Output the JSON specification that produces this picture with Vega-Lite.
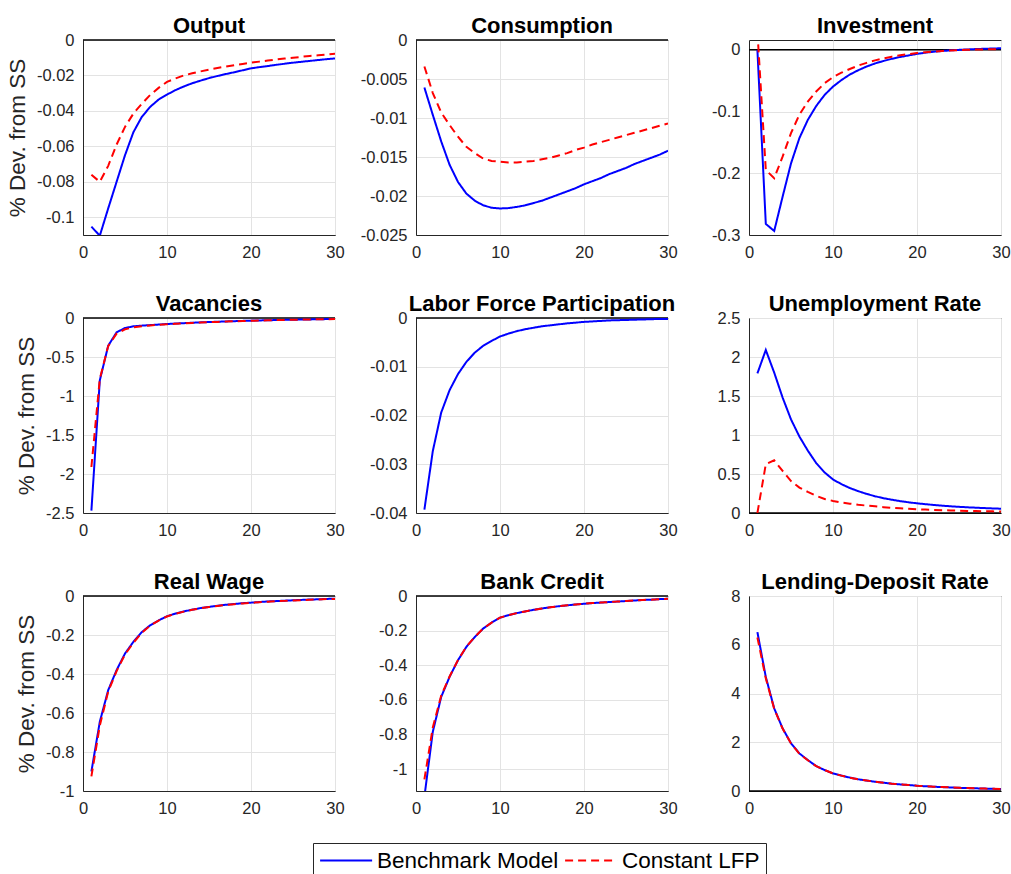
{
  "$schema": "https://vega.github.io/schema/vega-lite/v6.json",
  "padding": {"left": 5, "top": 14, "right": 5, "bottom": 5},
  "config": {
    "font": "Liberation Sans",
    "locale": {"number": {"decimal": ".", "thousands": ",", "grouping": [3], "currency": ["$", ""], "minus": "-"}},
    "view": {"stroke": "#262626", "strokeWidth": 1},
    "axis": {"grid": true, "gridColor": "#e3e3e3", "domainColor": "#262626", "ticks": false, "labelColor": "#262626", "labelFontSize": 16.5, "titleFontSize": 22.5, "titleFontWeight": "normal", "titleColor": "#262626", "labelPadding": 9, "titlePadding": 7, "labelFlush": false, "labelOverlap": false, "tickCount": 12},
    "title": {"fontSize": 22, "fontWeight": "bold", "color": "black", "offset": -6},
    "legend": {"orient": "none", "legendX": 230, "legendY": 803, "direction": "horizontal", "strokeColor": "#262626", "fillColor": "white", "padding": 6, "labelFontSize": 22.5, "labelColor": "black", "labelLimit": 400, "symbolSize": 433, "symbolStrokeWidth": 2, "columnPadding": 2, "labelOffset": 35, "cornerRadius": 0}
  },
  "datasets": {
    "irf": [
      {"p":"O","t":1,"B":-0.1053,"C":-0.076},{"p":"O","t":2,"B":-0.1104,"C":-0.080},{"p":"O","t":3,"B":-0.095,"C":-0.071},{"p":"O","t":4,"B":-0.080,"C":-0.059},{"p":"O","t":5,"B":-0.065,"C":-0.049},{"p":"O","t":6,"B":-0.052,"C":-0.0415},{"p":"O","t":7,"B":-0.0434,"C":-0.036},{"p":"O","t":8,"B":-0.0377,"C":-0.031},{"p":"O","t":9,"B":-0.0336,"C":-0.027},{"p":"O","t":10,"B":-0.0308,"C":-0.0236},
      {"p":"O","t":11,"B":-0.0283,"C":-0.0217},{"p":"O","t":12,"B":-0.0262,"C":-0.0200},{"p":"O","t":13,"B":-0.0244,"C":-0.0188},{"p":"O","t":14,"B":-0.0229,"C":-0.0177},{"p":"O","t":15,"B":-0.0215,"C":-0.0167},{"p":"O","t":16,"B":-0.0203,"C":-0.0158},{"p":"O","t":17,"B":-0.0192,"C":-0.0150},{"p":"O","t":18,"B":-0.0182,"C":-0.0142},{"p":"O","t":19,"B":-0.0171,"C":-0.0135},{"p":"O","t":20,"B":-0.0160,"C":-0.0128},
      {"p":"O","t":21,"B":-0.0153,"C":-0.0122},{"p":"O","t":22,"B":-0.0147,"C":-0.0116},{"p":"O","t":23,"B":-0.0140,"C":-0.0110},{"p":"O","t":24,"B":-0.0134,"C":-0.0105},{"p":"O","t":25,"B":-0.0128,"C":-0.0100},{"p":"O","t":26,"B":-0.0123,"C":-0.0095},{"p":"O","t":27,"B":-0.0118,"C":-0.0090},{"p":"O","t":28,"B":-0.0113,"C":-0.0086},{"p":"O","t":29,"B":-0.0108,"C":-0.0082},{"p":"O","t":30,"B":-0.0104,"C":-0.0078},

      {"p":"N","t":1,"B":-0.0061,"C":-0.0034},{"p":"N","t":2,"B":-0.0096,"C":-0.0068},{"p":"N","t":3,"B":-0.0130,"C":-0.0093},{"p":"N","t":4,"B":-0.0160,"C":-0.0109},{"p":"N","t":5,"B":-0.0182,"C":-0.0124},{"p":"N","t":6,"B":-0.0197,"C":-0.0137},{"p":"N","t":7,"B":-0.0206,"C":-0.0145},{"p":"N","t":8,"B":-0.0212,"C":-0.0152},{"p":"N","t":9,"B":-0.0215,"C":-0.0155},{"p":"N","t":10,"B":-0.0216,"C":-0.0156},
      {"p":"N","t":11,"B":-0.02155,"C":-0.0157},{"p":"N","t":12,"B":-0.0214,"C":-0.0157},{"p":"N","t":13,"B":-0.0212,"C":-0.0156},{"p":"N","t":14,"B":-0.0209,"C":-0.0155},{"p":"N","t":15,"B":-0.0206,"C":-0.0153},{"p":"N","t":16,"B":-0.0202,"C":-0.0151},{"p":"N","t":17,"B":-0.0198,"C":-0.0148},{"p":"N","t":18,"B":-0.0194,"C":-0.0145},{"p":"N","t":19,"B":-0.0190,"C":-0.0141},{"p":"N","t":20,"B":-0.0185,"C":-0.0138},
      {"p":"N","t":21,"B":-0.0181,"C":-0.0134},{"p":"N","t":22,"B":-0.0177,"C":-0.0131},{"p":"N","t":23,"B":-0.0172,"C":-0.0128},{"p":"N","t":24,"B":-0.0168,"C":-0.0125},{"p":"N","t":25,"B":-0.0164,"C":-0.0122},{"p":"N","t":26,"B":-0.0159,"C":-0.0119},{"p":"N","t":27,"B":-0.0155,"C":-0.0116},{"p":"N","t":28,"B":-0.0151,"C":-0.0113},{"p":"N","t":29,"B":-0.0147,"C":-0.0110},{"p":"N","t":30,"B":-0.0142,"C":-0.0107},

      {"p":"I","t":1,"B":0,"C":0.03},{"p":"I","t":2,"B":-0.282,"C":-0.1946},{"p":"I","t":3,"B":-0.2935,"C":-0.208},{"p":"I","t":4,"B":-0.238,"C":-0.173},{"p":"I","t":5,"B":-0.184,"C":-0.135},{"p":"I","t":6,"B":-0.143,"C":-0.105},{"p":"I","t":7,"B":-0.1135,"C":-0.084},{"p":"I","t":8,"B":-0.091,"C":-0.0675},{"p":"I","t":9,"B":-0.073,"C":-0.054},{"p":"I","t":10,"B":-0.0595,"C":-0.0443},
      {"p":"I","t":11,"B":-0.049,"C":-0.037},{"p":"I","t":12,"B":-0.040,"C":-0.031},{"p":"I","t":13,"B":-0.033,"C":-0.0255},{"p":"I","t":14,"B":-0.027,"C":-0.021},{"p":"I","t":15,"B":-0.022,"C":-0.017},{"p":"I","t":16,"B":-0.018,"C":-0.0138},{"p":"I","t":17,"B":-0.0145,"C":-0.011},{"p":"I","t":18,"B":-0.0115,"C":-0.0088},{"p":"I","t":19,"B":-0.009,"C":-0.0068},{"p":"I","t":20,"B":-0.0065,"C":-0.0052},
      {"p":"I","t":21,"B":-0.0045,"C":-0.0038},{"p":"I","t":22,"B":-0.003,"C":-0.0027},{"p":"I","t":23,"B":-0.0018,"C":-0.0018},{"p":"I","t":24,"B":-0.0008,"C":-0.001},{"p":"I","t":25,"B":0,"C":-0.0004},{"p":"I","t":26,"B":0.0007,"C":0.0001},{"p":"I","t":27,"B":0.0013,"C":0.0005},{"p":"I","t":28,"B":0.0018,"C":0.0008},{"p":"I","t":29,"B":0.0022,"C":0.0011},{"p":"I","t":30,"B":0.0026,"C":0.0013},

      {"p":"V","t":1,"B":-2.47,"C":-1.91},{"p":"V","t":2,"B":-0.80,"C":-0.78},{"p":"V","t":3,"B":-0.355,"C":-0.36},{"p":"V","t":4,"B":-0.184,"C":-0.20},{"p":"V","t":5,"B":-0.128,"C":-0.145},{"p":"V","t":6,"B":-0.107,"C":-0.12},{"p":"V","t":7,"B":-0.098,"C":-0.105},{"p":"V","t":8,"B":-0.091,"C":-0.095},{"p":"V","t":9,"B":-0.084,"C":-0.087},{"p":"V","t":10,"B":-0.077,"C":-0.080},
      {"p":"V","t":11,"B":-0.071,"C":-0.074},{"p":"V","t":12,"B":-0.066,"C":-0.068},{"p":"V","t":13,"B":-0.061,"C":-0.063},{"p":"V","t":14,"B":-0.056,"C":-0.058},{"p":"V","t":15,"B":-0.052,"C":-0.054},{"p":"V","t":16,"B":-0.048,"C":-0.050},{"p":"V","t":17,"B":-0.044,"C":-0.046},{"p":"V","t":18,"B":-0.041,"C":-0.042},{"p":"V","t":19,"B":-0.037,"C":-0.039},{"p":"V","t":20,"B":-0.034,"C":-0.036},
      {"p":"V","t":21,"B":-0.031,"C":-0.033},{"p":"V","t":22,"B":-0.029,"C":-0.030},{"p":"V","t":23,"B":-0.026,"C":-0.027},{"p":"V","t":24,"B":-0.024,"C":-0.025},{"p":"V","t":25,"B":-0.022,"C":-0.023},{"p":"V","t":26,"B":-0.020,"C":-0.021},{"p":"V","t":27,"B":-0.018,"C":-0.019},{"p":"V","t":28,"B":-0.016,"C":-0.017},{"p":"V","t":29,"B":-0.014,"C":-0.015},{"p":"V","t":30,"B":-0.013,"C":-0.014},

      {"p":"L","t":1,"B":-0.0393},{"p":"L","t":2,"B":-0.0273},{"p":"L","t":3,"B":-0.0194},{"p":"L","t":4,"B":-0.0148},{"p":"L","t":5,"B":-0.0115},{"p":"L","t":6,"B":-0.0090},{"p":"L","t":7,"B":-0.0071},{"p":"L","t":8,"B":-0.0057},{"p":"L","t":9,"B":-0.0047},{"p":"L","t":10,"B":-0.0038},
      {"p":"L","t":11,"B":-0.0032},{"p":"L","t":12,"B":-0.0027},{"p":"L","t":13,"B":-0.0023},{"p":"L","t":14,"B":-0.0020},{"p":"L","t":15,"B":-0.0017},{"p":"L","t":16,"B":-0.0015},{"p":"L","t":17,"B":-0.0013},{"p":"L","t":18,"B":-0.0011},{"p":"L","t":19,"B":-0.00095},{"p":"L","t":20,"B":-0.0008},
      {"p":"L","t":21,"B":-0.0007},{"p":"L","t":22,"B":-0.0006},{"p":"L","t":23,"B":-0.0005},{"p":"L","t":24,"B":-0.00045},{"p":"L","t":25,"B":-0.0004},{"p":"L","t":26,"B":-0.00035},{"p":"L","t":27,"B":-0.0003},{"p":"L","t":28,"B":-0.00025},{"p":"L","t":29,"B":-0.0002},{"p":"L","t":30,"B":-0.0002},

      {"p":"U","t":1,"B":1.79,"C":0},{"p":"U","t":2,"B":2.09,"C":0.625},{"p":"U","t":3,"B":1.80,"C":0.675},{"p":"U","t":4,"B":1.48,"C":0.54},{"p":"U","t":5,"B":1.20,"C":0.41},{"p":"U","t":6,"B":0.98,"C":0.325},{"p":"U","t":7,"B":0.80,"C":0.27},{"p":"U","t":8,"B":0.64,"C":0.22},{"p":"U","t":9,"B":0.52,"C":0.18},{"p":"U","t":10,"B":0.43,"C":0.155},
      {"p":"U","t":11,"B":0.37,"C":0.135},{"p":"U","t":12,"B":0.32,"C":0.12},{"p":"U","t":13,"B":0.28,"C":0.105},{"p":"U","t":14,"B":0.245,"C":0.095},{"p":"U","t":15,"B":0.215,"C":0.085},{"p":"U","t":16,"B":0.19,"C":0.075},{"p":"U","t":17,"B":0.17,"C":0.067},{"p":"U","t":18,"B":0.152,"C":0.06},{"p":"U","t":19,"B":0.137,"C":0.054},{"p":"U","t":20,"B":0.124,"C":0.048},
      {"p":"U","t":21,"B":0.113,"C":0.044},{"p":"U","t":22,"B":0.103,"C":0.04},{"p":"U","t":23,"B":0.094,"C":0.036},{"p":"U","t":24,"B":0.086,"C":0.033},{"p":"U","t":25,"B":0.079,"C":0.030},{"p":"U","t":26,"B":0.073,"C":0.027},{"p":"U","t":27,"B":0.068,"C":0.025},{"p":"U","t":28,"B":0.063,"C":0.023},{"p":"U","t":29,"B":0.059,"C":0.021},{"p":"U","t":30,"B":0.055,"C":0.019},

      {"p":"W","t":1,"B":-0.90,"C":-0.925},{"p":"W","t":2,"B":-0.645,"C":-0.665},{"p":"W","t":3,"B":-0.483,"C":-0.49},{"p":"W","t":4,"B":-0.38,"C":-0.385},{"p":"W","t":5,"B":-0.295,"C":-0.30},{"p":"W","t":6,"B":-0.235,"C":-0.24},{"p":"W","t":7,"B":-0.185,"C":-0.188},{"p":"W","t":8,"B":-0.150,"C":-0.152},{"p":"W","t":9,"B":-0.125,"C":-0.126},{"p":"W","t":10,"B":-0.104,"C":-0.105},
      {"p":"W","t":11,"B":-0.090,"C":-0.091},{"p":"W","t":12,"B":-0.079,"C":-0.080},{"p":"W","t":13,"B":-0.070,"C":-0.071},{"p":"W","t":14,"B":-0.062,"C":-0.063},{"p":"W","t":15,"B":-0.056,"C":-0.057},{"p":"W","t":16,"B":-0.050,"C":-0.051},{"p":"W","t":17,"B":-0.045,"C":-0.046},{"p":"W","t":18,"B":-0.041,"C":-0.042},{"p":"W","t":19,"B":-0.037,"C":-0.038},{"p":"W","t":20,"B":-0.034,"C":-0.035},
      {"p":"W","t":21,"B":-0.031,"C":-0.032},{"p":"W","t":22,"B":-0.028,"C":-0.029},{"p":"W","t":23,"B":-0.026,"C":-0.027},{"p":"W","t":24,"B":-0.024,"C":-0.025},{"p":"W","t":25,"B":-0.022,"C":-0.023},{"p":"W","t":26,"B":-0.020,"C":-0.021},{"p":"W","t":27,"B":-0.018,"C":-0.019},{"p":"W","t":28,"B":-0.017,"C":-0.018},{"p":"W","t":29,"B":-0.015,"C":-0.016},{"p":"W","t":30,"B":-0.014,"C":-0.015},

      {"p":"K","t":1,"B":-1.16,"C":-1.06},{"p":"K","t":2,"B":-0.785,"C":-0.76},{"p":"K","t":3,"B":-0.583,"C":-0.575},{"p":"K","t":4,"B":-0.467,"C":-0.465},{"p":"K","t":5,"B":-0.371,"C":-0.37},{"p":"K","t":6,"B":-0.294,"C":-0.293},{"p":"K","t":7,"B":-0.237,"C":-0.236},{"p":"K","t":8,"B":-0.188,"C":-0.188},{"p":"K","t":9,"B":-0.154,"C":-0.154},{"p":"K","t":10,"B":-0.125,"C":-0.125},
      {"p":"K","t":11,"B":-0.111,"C":-0.111},{"p":"K","t":12,"B":-0.099,"C":-0.099},{"p":"K","t":13,"B":-0.089,"C":-0.089},{"p":"K","t":14,"B":-0.080,"C":-0.080},{"p":"K","t":15,"B":-0.072,"C":-0.072},{"p":"K","t":16,"B":-0.065,"C":-0.065},{"p":"K","t":17,"B":-0.059,"C":-0.059},{"p":"K","t":18,"B":-0.054,"C":-0.054},{"p":"K","t":19,"B":-0.049,"C":-0.049},{"p":"K","t":20,"B":-0.045,"C":-0.045},
      {"p":"K","t":21,"B":-0.041,"C":-0.041},{"p":"K","t":22,"B":-0.038,"C":-0.038},{"p":"K","t":23,"B":-0.035,"C":-0.035},{"p":"K","t":24,"B":-0.032,"C":-0.032},{"p":"K","t":25,"B":-0.029,"C":-0.029},{"p":"K","t":26,"B":-0.026,"C":-0.026},{"p":"K","t":27,"B":-0.023,"C":-0.023},{"p":"K","t":28,"B":-0.021,"C":-0.021},{"p":"K","t":29,"B":-0.018,"C":-0.018},{"p":"K","t":30,"B":-0.016,"C":-0.016},

      {"p":"R","t":1,"B":6.52,"C":6.30},{"p":"R","t":2,"B":4.68,"C":4.62},{"p":"R","t":3,"B":3.39,"C":3.37},{"p":"R","t":4,"B":2.57,"C":2.56},{"p":"R","t":5,"B":1.96,"C":1.95},{"p":"R","t":6,"B":1.54,"C":1.53},{"p":"R","t":7,"B":1.27,"C":1.26},{"p":"R","t":8,"B":1.02,"C":1.02},{"p":"R","t":9,"B":0.86,"C":0.86},{"p":"R","t":10,"B":0.72,"C":0.72},
      {"p":"R","t":11,"B":0.63,"C":0.63},{"p":"R","t":12,"B":0.55,"C":0.55},{"p":"R","t":13,"B":0.48,"C":0.48},{"p":"R","t":14,"B":0.43,"C":0.43},{"p":"R","t":15,"B":0.38,"C":0.38},{"p":"R","t":16,"B":0.34,"C":0.34},{"p":"R","t":17,"B":0.30,"C":0.30},{"p":"R","t":18,"B":0.27,"C":0.27},{"p":"R","t":19,"B":0.245,"C":0.245},{"p":"R","t":20,"B":0.215,"C":0.215},
      {"p":"R","t":21,"B":0.195,"C":0.195},{"p":"R","t":22,"B":0.175,"C":0.175},{"p":"R","t":23,"B":0.16,"C":0.16},{"p":"R","t":24,"B":0.145,"C":0.145},{"p":"R","t":25,"B":0.13,"C":0.13},{"p":"R","t":26,"B":0.12,"C":0.12},{"p":"R","t":27,"B":0.11,"C":0.11},{"p":"R","t":28,"B":0.10,"C":0.10},{"p":"R","t":29,"B":0.09,"C":0.09},{"p":"R","t":30,"B":0.08,"C":0.08}
    ]
  },
  "columns": 3,
  "bounds": "flush",
  "spacing": {"row": 83, "column": 81},
  "resolve": {"scale": {"color": "shared", "strokeDash": "shared"}},
  "concat": [
    {
      "title": "Output", "width": 252, "height": 195,
      "layer": [
        {"data": {"values": [{}]}, "mark": {"type": "rule", "color": "black", "strokeWidth": 1.5}, "encoding": {"y": {"datum": 0, "type": "quantitative", "title": "% Dev. from SS"}}},
        {"data": {"name": "irf"}, "transform": [{"filter": "datum.p === 'O'"}, {"fold": ["B", "C"], "as": ["s", "v"]}, {"filter": "isValid(datum.v)"}],
         "mark": {"type": "line", "clip": true, "strokeWidth": 2},
         "encoding": {
           "x": {"field": "t", "type": "quantitative", "scale": {"domain": [0, 30], "nice": false}, "axis": {"values": [0, 10, 20, 30], "title": null}},
           "y": {"field": "v", "type": "quantitative", "scale": {"domain": [-0.11, 0], "nice": false, "zero": false}, "axis": {"values": [0, -0.02, -0.04, -0.06, -0.08, -0.1], "format": "~g", "labelOverlap": false, "tickCount": 12}, "title": "% Dev. from SS"},
           "color": {"field": "s", "type": "nominal", "title": null, "scale": {"domain": ["B", "C"], "range": ["#0000ff", "#ff0000"]}, "legend": {"symbolType": "M-1,0H4", "labelExpr": "datum.label == 'B' ? 'Benchmark Model' : 'Constant LFP'"}},
           "strokeDash": {"field": "s", "type": "nominal", "title": null, "scale": {"domain": ["B", "C"], "range": [[1, 0], [8, 5]]}, "legend": {"symbolType": "M-1,0H4", "labelExpr": "datum.label == 'B' ? 'Benchmark Model' : 'Constant LFP'"}}
         }}
      ]
    },
    {
      "title": "Consumption", "width": 252, "height": 195,
      "layer": [
        {"data": {"values": [{}]}, "mark": {"type": "rule", "color": "black", "strokeWidth": 1.5}, "encoding": {"y": {"datum": 0, "type": "quantitative", "title": null}}},
        {"data": {"name": "irf"}, "transform": [{"filter": "datum.p === 'N'"}, {"fold": ["B", "C"], "as": ["s", "v"]}, {"filter": "isValid(datum.v)"}],
         "mark": {"type": "line", "clip": true, "strokeWidth": 2},
         "encoding": {
           "x": {"field": "t", "type": "quantitative", "scale": {"domain": [0, 30], "nice": false}, "axis": {"values": [0, 10, 20, 30], "title": null}},
           "y": {"field": "v", "type": "quantitative", "scale": {"domain": [-0.025, 0], "nice": false, "zero": false}, "axis": {"values": [0, -0.005, -0.01, -0.015, -0.02, -0.025], "format": "~g", "labelOverlap": false, "tickCount": 12}, "title": null},
           "color": {"field": "s", "type": "nominal", "title": null, "scale": {"domain": ["B", "C"], "range": ["#0000ff", "#ff0000"]}, "legend": {"symbolType": "M-1,0H4", "labelExpr": "datum.label == 'B' ? 'Benchmark Model' : 'Constant LFP'"}},
           "strokeDash": {"field": "s", "type": "nominal", "title": null, "scale": {"domain": ["B", "C"], "range": [[1, 0], [8, 5]]}, "legend": {"symbolType": "M-1,0H4", "labelExpr": "datum.label == 'B' ? 'Benchmark Model' : 'Constant LFP'"}}
         }}
      ]
    },
    {
      "title": {"text": "Investment", "offset": 2}, "width": 252, "height": 195,
      "layer": [
        {"data": {"values": [{}]}, "mark": {"type": "rule", "color": "black", "strokeWidth": 1.5}, "encoding": {"y": {"datum": 0, "type": "quantitative", "title": null}}},
        {"data": {"name": "irf"}, "transform": [{"filter": "datum.p === 'I'"}, {"fold": ["B", "C"], "as": ["s", "v"]}, {"filter": "isValid(datum.v)"}],
         "mark": {"type": "line", "clip": true, "strokeWidth": 2},
         "encoding": {
           "x": {"field": "t", "type": "quantitative", "scale": {"domain": [0, 30], "nice": false}, "axis": {"values": [0, 10, 20, 30], "title": null}},
           "y": {"field": "v", "type": "quantitative", "scale": {"domain": [-0.3, 0.016], "nice": false, "zero": false}, "axis": {"values": [0, -0.1, -0.2, -0.3], "format": "~g", "labelOverlap": false, "tickCount": 12}, "title": null},
           "color": {"field": "s", "type": "nominal", "title": null, "scale": {"domain": ["B", "C"], "range": ["#0000ff", "#ff0000"]}, "legend": {"symbolType": "M-1,0H4", "labelExpr": "datum.label == 'B' ? 'Benchmark Model' : 'Constant LFP'"}},
           "strokeDash": {"field": "s", "type": "nominal", "title": null, "scale": {"domain": ["B", "C"], "range": [[1, 0], [8, 5]]}, "legend": {"symbolType": "M-1,0H4", "labelExpr": "datum.label == 'B' ? 'Benchmark Model' : 'Constant LFP'"}}
         }}
      ]
    },
    {
      "title": "Vacancies", "width": 252, "height": 195,
      "layer": [
        {"data": {"values": [{}]}, "mark": {"type": "rule", "color": "black", "strokeWidth": 1.5}, "encoding": {"y": {"datum": 0, "type": "quantitative", "title": "% Dev. from SS"}}},
        {"data": {"name": "irf"}, "transform": [{"filter": "datum.p === 'V'"}, {"fold": ["B", "C"], "as": ["s", "v"]}, {"filter": "isValid(datum.v)"}],
         "mark": {"type": "line", "clip": true, "strokeWidth": 2},
         "encoding": {
           "x": {"field": "t", "type": "quantitative", "scale": {"domain": [0, 30], "nice": false}, "axis": {"values": [0, 10, 20, 30], "title": null}},
           "y": {"field": "v", "type": "quantitative", "scale": {"domain": [-2.5, 0], "nice": false, "zero": false}, "axis": {"values": [0, -0.5, -1, -1.5, -2, -2.5], "format": "~g", "labelOverlap": false, "tickCount": 12}, "title": "% Dev. from SS"},
           "color": {"field": "s", "type": "nominal", "title": null, "scale": {"domain": ["B", "C"], "range": ["#0000ff", "#ff0000"]}, "legend": {"symbolType": "M-1,0H4", "labelExpr": "datum.label == 'B' ? 'Benchmark Model' : 'Constant LFP'"}},
           "strokeDash": {"field": "s", "type": "nominal", "title": null, "scale": {"domain": ["B", "C"], "range": [[1, 0], [8, 5]]}, "legend": {"symbolType": "M-1,0H4", "labelExpr": "datum.label == 'B' ? 'Benchmark Model' : 'Constant LFP'"}}
         }}
      ]
    },
    {
      "title": "Labor Force Participation", "width": 252, "height": 195,
      "layer": [
        {"data": {"values": [{}]}, "mark": {"type": "rule", "color": "black", "strokeWidth": 1.5}, "encoding": {"y": {"datum": 0, "type": "quantitative", "title": null}}},
        {"data": {"name": "irf"}, "transform": [{"filter": "datum.p === 'L'"}, {"fold": ["B", "C"], "as": ["s", "v"]}, {"filter": "isValid(datum.v)"}],
         "mark": {"type": "line", "clip": true, "strokeWidth": 2},
         "encoding": {
           "x": {"field": "t", "type": "quantitative", "scale": {"domain": [0, 30], "nice": false}, "axis": {"values": [0, 10, 20, 30], "title": null}},
           "y": {"field": "v", "type": "quantitative", "scale": {"domain": [-0.04, 0], "nice": false, "zero": false}, "axis": {"values": [0, -0.01, -0.02, -0.03, -0.04], "format": "~g", "labelOverlap": false, "tickCount": 12}, "title": null},
           "color": {"field": "s", "type": "nominal", "title": null, "scale": {"domain": ["B", "C"], "range": ["#0000ff", "#ff0000"]}, "legend": {"symbolType": "M-1,0H4", "labelExpr": "datum.label == 'B' ? 'Benchmark Model' : 'Constant LFP'"}},
           "strokeDash": {"field": "s", "type": "nominal", "title": null, "scale": {"domain": ["B", "C"], "range": [[1, 0], [8, 5]]}, "legend": {"symbolType": "M-1,0H4", "labelExpr": "datum.label == 'B' ? 'Benchmark Model' : 'Constant LFP'"}}
         }}
      ]
    },
    {
      "title": "Unemployment Rate", "width": 252, "height": 195,
      "layer": [
        {"data": {"values": [{}]}, "mark": {"type": "rule", "color": "black", "strokeWidth": 1.5}, "encoding": {"y": {"datum": 0, "type": "quantitative", "title": null}}},
        {"data": {"name": "irf"}, "transform": [{"filter": "datum.p === 'U'"}, {"fold": ["B", "C"], "as": ["s", "v"]}, {"filter": "isValid(datum.v)"}],
         "mark": {"type": "line", "clip": true, "strokeWidth": 2},
         "encoding": {
           "x": {"field": "t", "type": "quantitative", "scale": {"domain": [0, 30], "nice": false}, "axis": {"values": [0, 10, 20, 30], "title": null}},
           "y": {"field": "v", "type": "quantitative", "scale": {"domain": [0, 2.5], "nice": false, "zero": false}, "axis": {"values": [0, 0.5, 1, 1.5, 2, 2.5], "format": "~g", "labelOverlap": false, "tickCount": 12}, "title": null},
           "color": {"field": "s", "type": "nominal", "title": null, "scale": {"domain": ["B", "C"], "range": ["#0000ff", "#ff0000"]}, "legend": {"symbolType": "M-1,0H4", "labelExpr": "datum.label == 'B' ? 'Benchmark Model' : 'Constant LFP'"}},
           "strokeDash": {"field": "s", "type": "nominal", "title": null, "scale": {"domain": ["B", "C"], "range": [[1, 0], [8, 5]]}, "legend": {"symbolType": "M-1,0H4", "labelExpr": "datum.label == 'B' ? 'Benchmark Model' : 'Constant LFP'"}}
         }}
      ]
    },
    {
      "title": "Real Wage", "width": 252, "height": 195,
      "layer": [
        {"data": {"values": [{}]}, "mark": {"type": "rule", "color": "black", "strokeWidth": 1.5}, "encoding": {"y": {"datum": 0, "type": "quantitative", "title": "% Dev. from SS"}}},
        {"data": {"name": "irf"}, "transform": [{"filter": "datum.p === 'W'"}, {"fold": ["B", "C"], "as": ["s", "v"]}, {"filter": "isValid(datum.v)"}],
         "mark": {"type": "line", "clip": true, "strokeWidth": 2},
         "encoding": {
           "x": {"field": "t", "type": "quantitative", "scale": {"domain": [0, 30], "nice": false}, "axis": {"values": [0, 10, 20, 30], "title": null}},
           "y": {"field": "v", "type": "quantitative", "scale": {"domain": [-1, 0], "nice": false, "zero": false}, "axis": {"values": [0, -0.2, -0.4, -0.6, -0.8, -1], "format": "~g", "labelOverlap": false, "tickCount": 12}, "title": "% Dev. from SS"},
           "color": {"field": "s", "type": "nominal", "title": null, "scale": {"domain": ["B", "C"], "range": ["#0000ff", "#ff0000"]}, "legend": {"symbolType": "M-1,0H4", "labelExpr": "datum.label == 'B' ? 'Benchmark Model' : 'Constant LFP'"}},
           "strokeDash": {"field": "s", "type": "nominal", "title": null, "scale": {"domain": ["B", "C"], "range": [[1, 0], [8, 5]]}, "legend": {"symbolType": "M-1,0H4", "labelExpr": "datum.label == 'B' ? 'Benchmark Model' : 'Constant LFP'"}}
         }}
      ]
    },
    {
      "title": "Bank Credit", "width": 252, "height": 195,
      "layer": [
        {"data": {"values": [{}]}, "mark": {"type": "rule", "color": "black", "strokeWidth": 1.5}, "encoding": {"y": {"datum": 0, "type": "quantitative", "title": null}}},
        {"data": {"name": "irf"}, "transform": [{"filter": "datum.p === 'K'"}, {"fold": ["B", "C"], "as": ["s", "v"]}, {"filter": "isValid(datum.v)"}],
         "mark": {"type": "line", "clip": true, "strokeWidth": 2},
         "encoding": {
           "x": {"field": "t", "type": "quantitative", "scale": {"domain": [0, 30], "nice": false}, "axis": {"values": [0, 10, 20, 30], "title": null}},
           "y": {"field": "v", "type": "quantitative", "scale": {"domain": [-1.127, 0], "nice": false, "zero": false}, "axis": {"values": [0, -0.2, -0.4, -0.6, -0.8, -1], "format": "~g", "labelOverlap": false, "tickCount": 12}, "title": null},
           "color": {"field": "s", "type": "nominal", "title": null, "scale": {"domain": ["B", "C"], "range": ["#0000ff", "#ff0000"]}, "legend": {"symbolType": "M-1,0H4", "labelExpr": "datum.label == 'B' ? 'Benchmark Model' : 'Constant LFP'"}},
           "strokeDash": {"field": "s", "type": "nominal", "title": null, "scale": {"domain": ["B", "C"], "range": [[1, 0], [8, 5]]}, "legend": {"symbolType": "M-1,0H4", "labelExpr": "datum.label == 'B' ? 'Benchmark Model' : 'Constant LFP'"}}
         }}
      ]
    },
    {
      "title": "Lending-Deposit Rate", "width": 252, "height": 195,
      "layer": [
        {"data": {"values": [{}]}, "mark": {"type": "rule", "color": "black", "strokeWidth": 1.5}, "encoding": {"y": {"datum": 0, "type": "quantitative", "title": null}}},
        {"data": {"name": "irf"}, "transform": [{"filter": "datum.p === 'R'"}, {"fold": ["B", "C"], "as": ["s", "v"]}, {"filter": "isValid(datum.v)"}],
         "mark": {"type": "line", "clip": true, "strokeWidth": 2},
         "encoding": {
           "x": {"field": "t", "type": "quantitative", "scale": {"domain": [0, 30], "nice": false}, "axis": {"values": [0, 10, 20, 30], "title": null}},
           "y": {"field": "v", "type": "quantitative", "scale": {"domain": [0, 8], "nice": false, "zero": false}, "axis": {"values": [0, 2, 4, 6, 8], "format": "~g", "labelOverlap": false, "tickCount": 12}, "title": null},
           "color": {"field": "s", "type": "nominal", "title": null, "scale": {"domain": ["B", "C"], "range": ["#0000ff", "#ff0000"]}, "legend": {"symbolType": "M-1,0H4", "labelExpr": "datum.label == 'B' ? 'Benchmark Model' : 'Constant LFP'"}},
           "strokeDash": {"field": "s", "type": "nominal", "title": null, "scale": {"domain": ["B", "C"], "range": [[1, 0], [8, 5]]}, "legend": {"symbolType": "M-1,0H4", "labelExpr": "datum.label == 'B' ? 'Benchmark Model' : 'Constant LFP'"}}
         }}
      ]
    }
  ]
}
